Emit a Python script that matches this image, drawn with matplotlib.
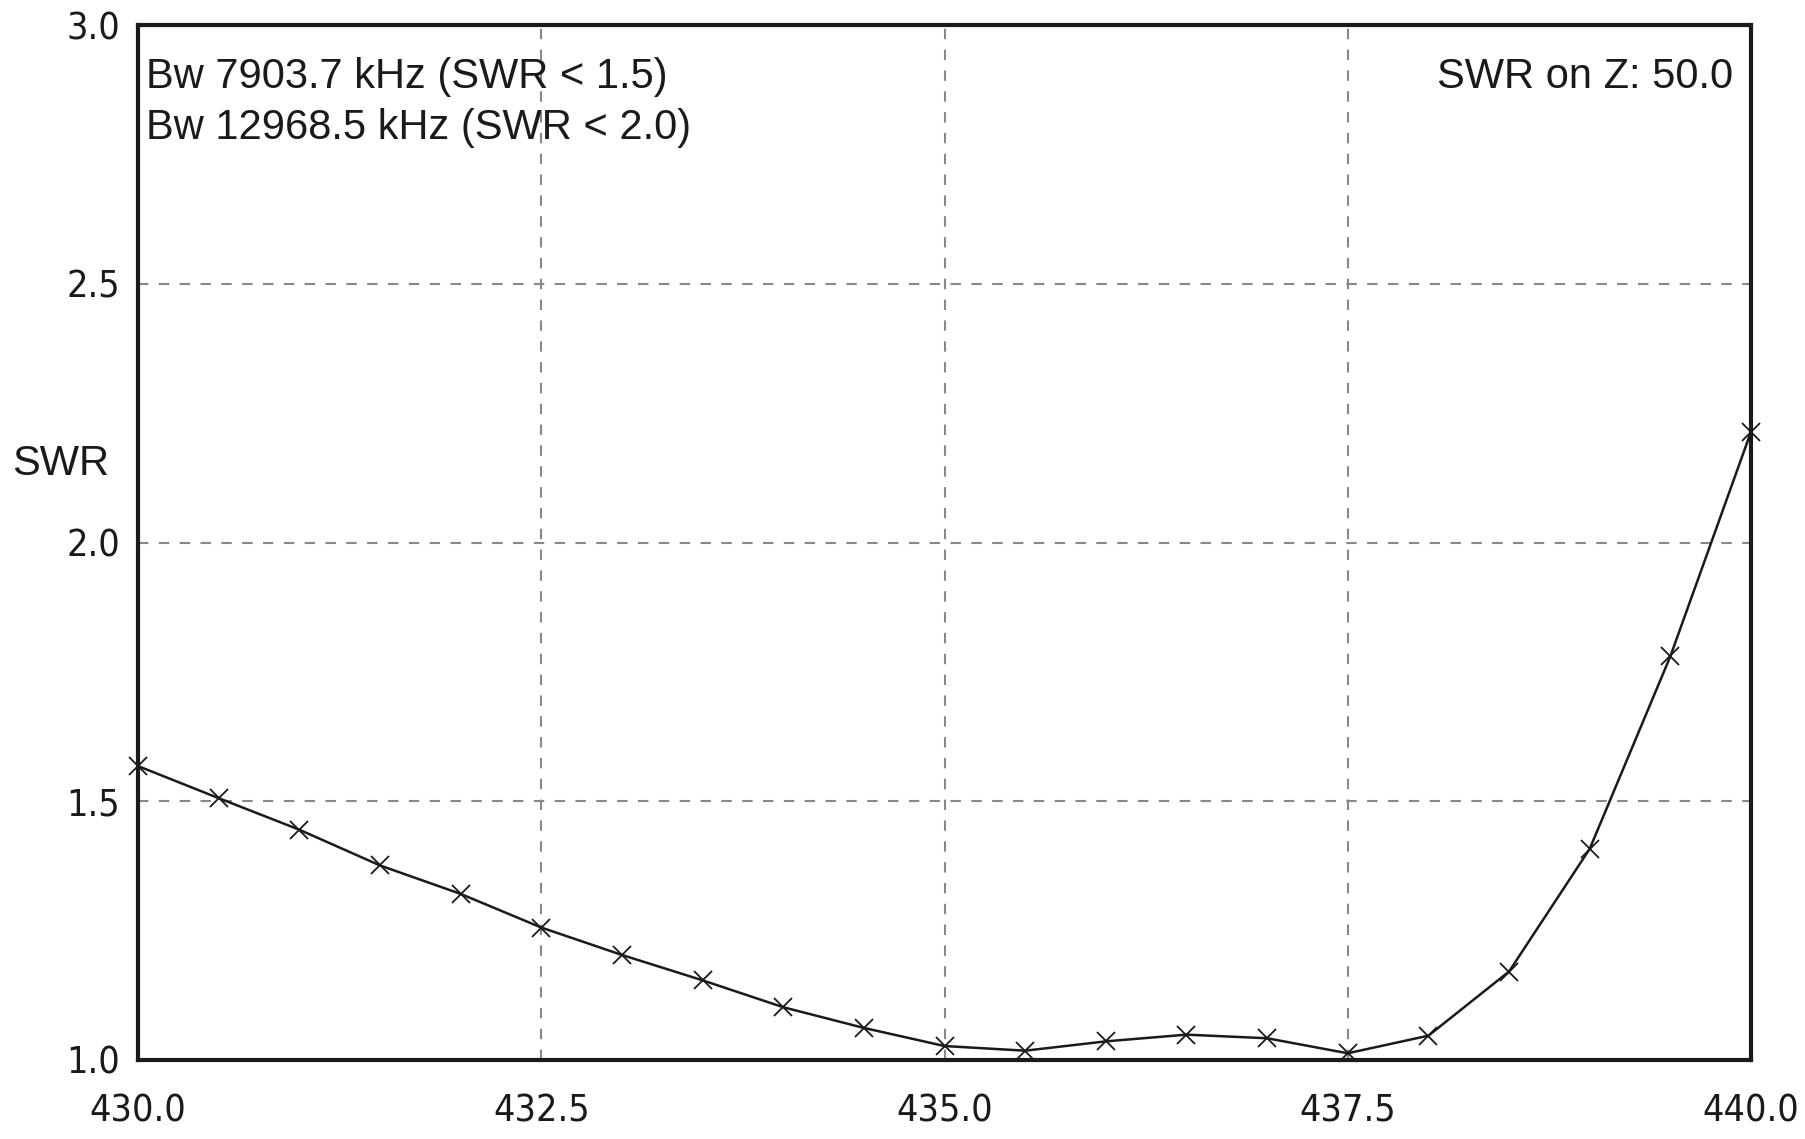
import numpy as np
import matplotlib
matplotlib.use("Agg")
import matplotlib.pyplot as plt

# ----- data -----
freq = [430.0, 430.5, 431.0, 431.5, 432.0, 432.5, 433.0, 433.5, 434.0, 434.5,
        435.0, 435.5, 436.0, 436.5, 437.0, 437.5, 438.0, 438.5, 439.0, 439.5, 440.0]
swr = [1.568, 1.506, 1.445, 1.376, 1.321, 1.256, 1.203, 1.154, 1.102, 1.062,
       1.027, 1.018, 1.036, 1.049, 1.042, 1.013, 1.047, 1.171, 1.408, 1.780, 2.214]
x_ticks = [430.0, 432.5, 435.0, 437.5, 440.0]
y_ticks = [1.0, 1.5, 2.0, 2.5, 3.0]
bw_lines = ["Bw 7903.7 kHz (SWR < 1.5)", "Bw 12968.5 kHz (SWR < 2.0)"]
z_text = "SWR on Z: 50.0"

plt.rcParams['font.family'] = ['Liberation Sans', 'DejaVu Sans']

fig = plt.figure(figsize=(18.06, 11.39), dpi=100)
ax = fig.add_axes([138 / 1806, 1 - 1060 / 1139, (1751 - 138) / 1806, (1060 - 25) / 1139])

ax.plot(freq, swr, color='#1a1a1a', linewidth=1.8, marker='x', markersize=13,
        markeredgewidth=1.3, clip_on=False, zorder=3)

ax.set_xlim(430, 440)
ax.set_ylim(1.0, 3.0)
ax.set_xticks(x_ticks)
ax.set_yticks(y_ticks)
ax.set_xticklabels([f"{v:.1f}" for v in x_ticks])
ax.set_yticklabels([f"{v:.1f}" for v in y_ticks])
ax.tick_params(length=0, labelsize=27, colors='#1a1a1a')
ax.tick_params(axis='x', pad=24)
ax.tick_params(axis='y', pad=13)
# the original tick labels are narrow; use a condensed face where one exists
for lbl in ax.get_xticklabels() + ax.get_yticklabels():
    lbl.set_fontfamily(['DejaVu Sans'])
    lbl.set_fontstretch('condensed')

# interior grid only
for v in x_ticks[1:-1]:
    ax.axvline(v, color='#888888', linestyle=(0, (5, 5)), linewidth=1.5, zorder=1)
for v in y_ticks[1:-1]:
    ax.axhline(v, color='#888888', linestyle=(0, (5, 5)), linewidth=1.5, zorder=1)

for s in ax.spines.values():
    s.set_linewidth(3)
    s.set_color('#1a1a1a')

ax.text(0.005, 0.950, bw_lines[0], transform=ax.transAxes, fontsize=30,
        ha='left', va='center', color='#1a1a1a')
ax.text(0.005, 0.900, bw_lines[1], transform=ax.transAxes, fontsize=30,
        ha='left', va='center', color='#1a1a1a')
ax.text(0.989, 0.950, z_text, transform=ax.transAxes, fontsize=30,
        ha='right', va='center', color='#1a1a1a')

fig.text(12 / 1806, 1 - 464 / 1139, "SWR", fontsize=30, ha='left', va='center',
         color='#1a1a1a')

fig.savefig("out.png", dpi=100)
